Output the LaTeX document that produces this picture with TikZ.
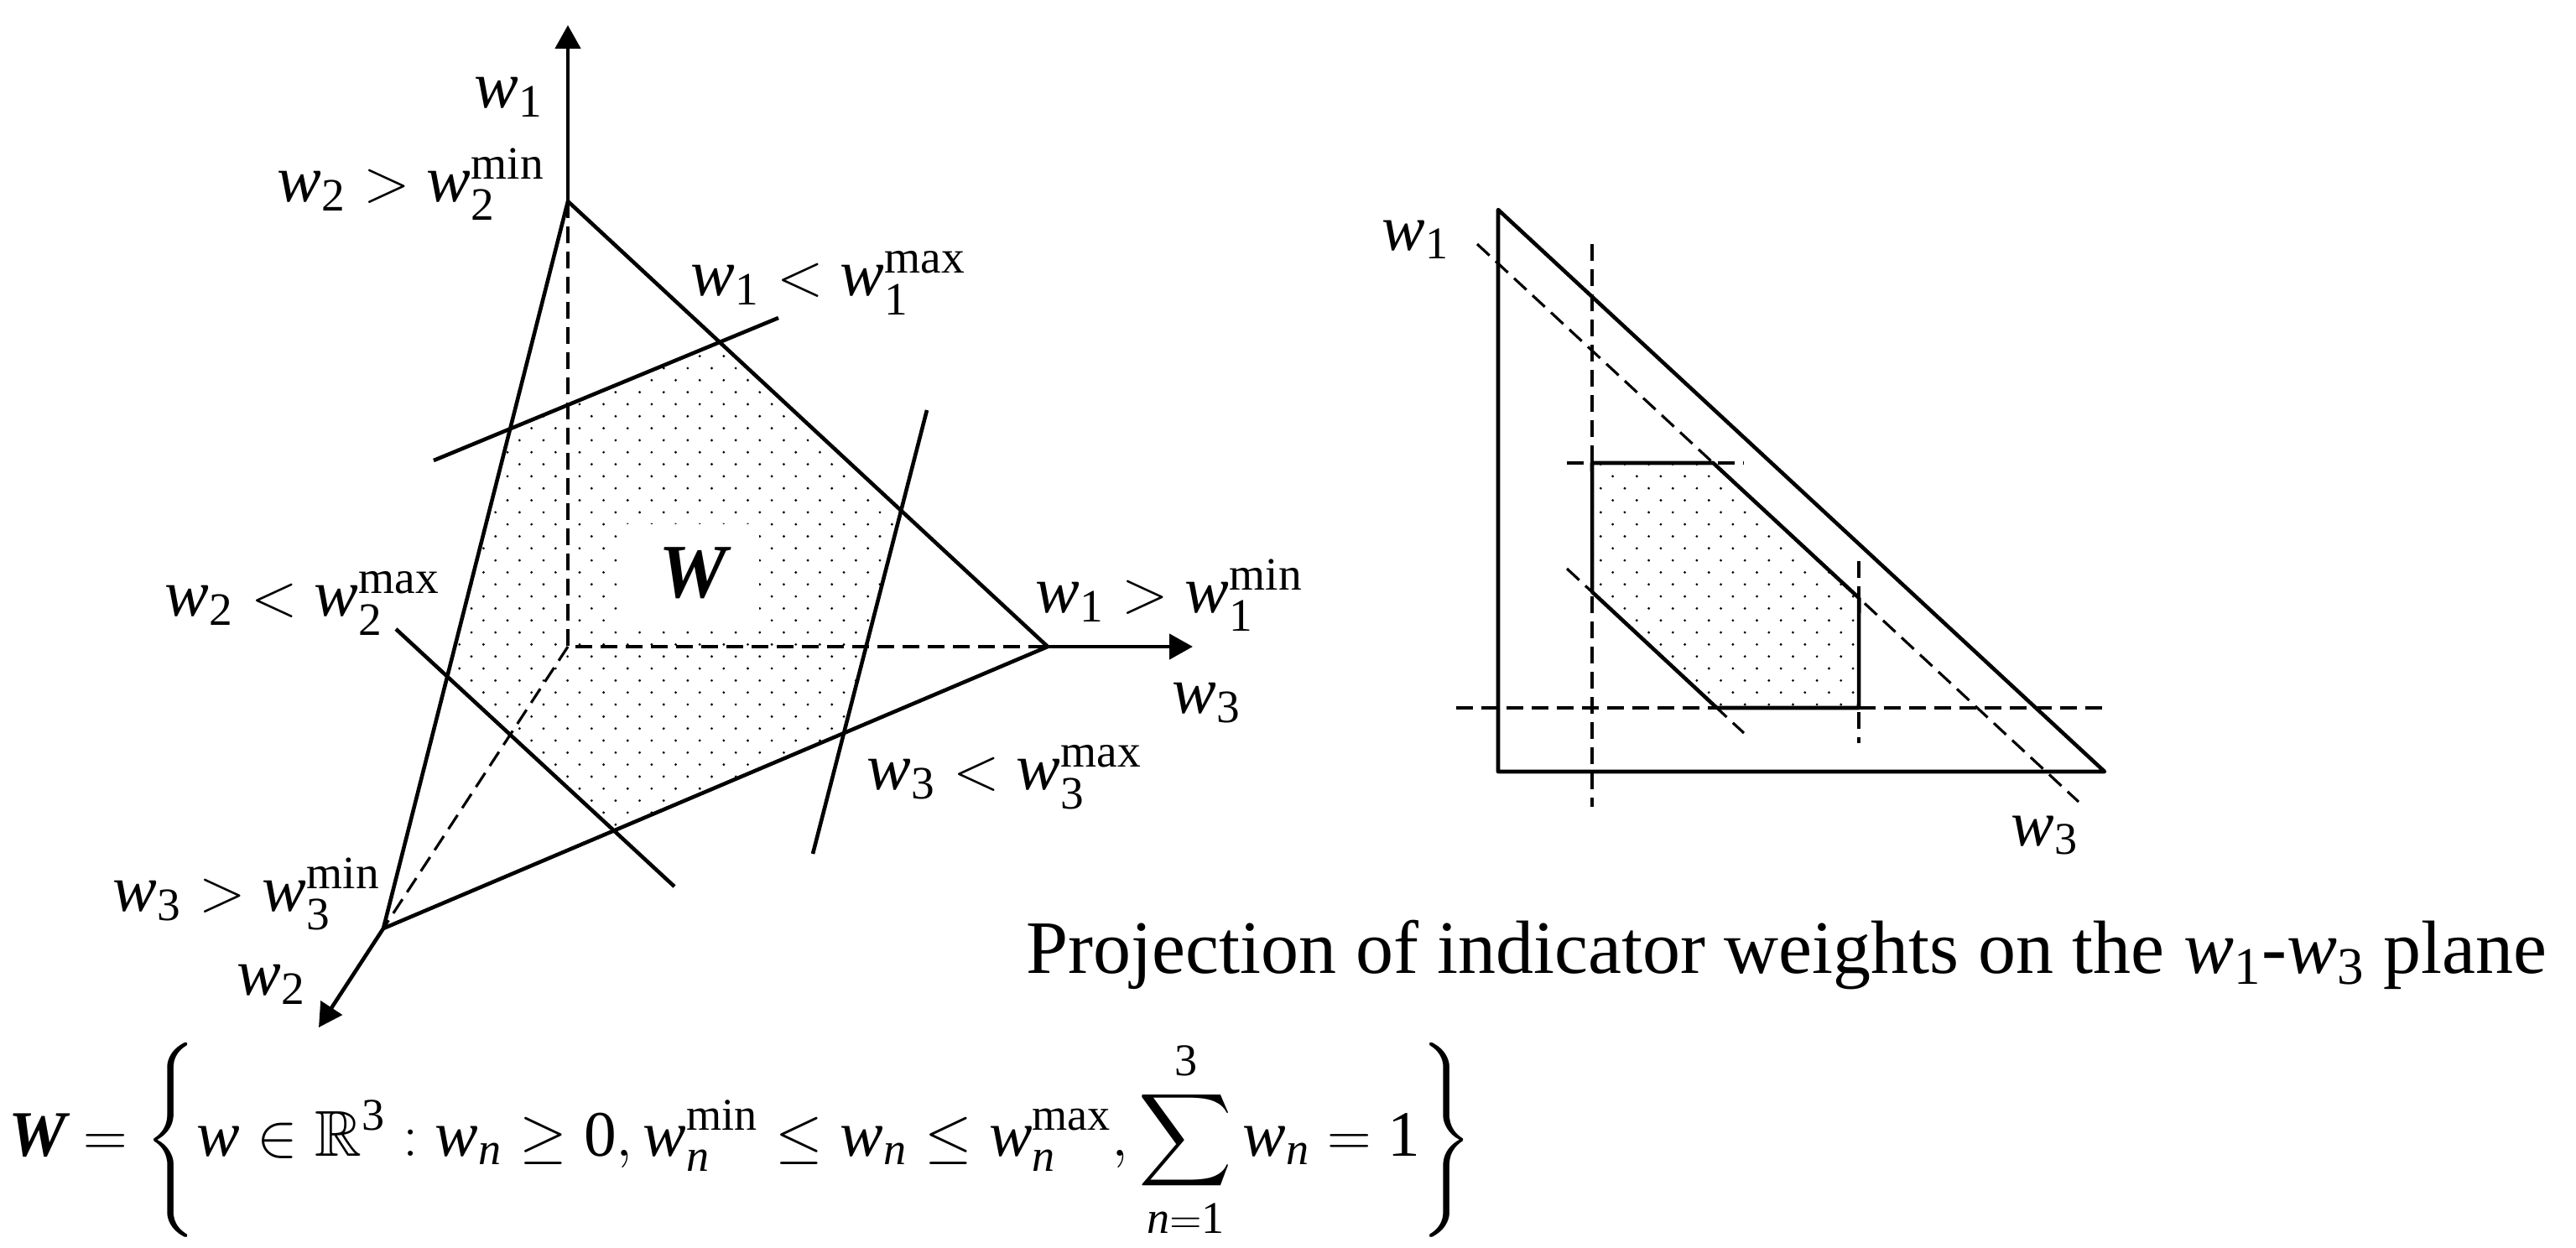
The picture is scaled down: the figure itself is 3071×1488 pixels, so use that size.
\documentclass[tikz,border=0pt]{standalone}
\usepackage{amsmath,amssymb}
\usepackage{fontspec}
\setmainfont{Liberation Serif}
\usetikzlibrary{arrows.meta,patterns}

\newcommand\iw{\text{\itshape w}}
\newcommand\tx[1]{\text{#1}}
\newcommand\iN{\text{\itshape n}}

\pgfdeclarepatternformonly{sdots}{\pgfqpoint{0pt}{0pt}}{\pgfqpoint{6.2pt}{6.2pt}}{\pgfqpoint{8.15pt}{8.15pt}}{%
  \pgfpathcircle{\pgfqpoint{1pt}{1pt}}{0.45pt}%
  \pgfpathcircle{\pgfqpoint{5.07pt}{5.07pt}}{0.45pt}%
  \pgfusepath{fill}}

\begin{document}
\begin{tikzpicture}[x=0.1mm,y=-0.1mm,line join=round]
\tikzset{
  solidline/.style={line width=1.3pt},
  dashline/.style={line width=0.9pt,dash pattern=on 2mm off 1mm},
  axisarrow/.style={line width=1.3pt,-{Triangle[length=2.8mm,width=3mm]}},
  lbl/.style={font=\fontsize{22.5}{27}\selectfont,inner sep=0pt},
  rlbl/.style={font=\fontsize{22}{26}\selectfont,inner sep=0pt},
  dotfill/.style={pattern=sdots},
}
\useasboundingbox (0,0) rectangle (3071,1488);

% ---------- left 3D diagram ----------
\coordinate (O) at (677,771);
\coordinate (A) at (677,240);
\coordinate (C) at (1249,771);
\coordinate (B) at (457,1107);
\coordinate (T1) at (677,30);
\coordinate (T3) at (1422,771);
\coordinate (T2) at (380,1225);
\coordinate (l1a) at (517,549);  \coordinate (l1b) at (928,379);
\coordinate (l3a) at (1105,489); \coordinate (l3b) at (969,1018);
\coordinate (l2a) at (472,750);  \coordinate (l2b) at (804,1057);

\coordinate (h1) at (intersection of A--B and l1a--l1b);
\coordinate (h2) at (intersection of A--C and l1a--l1b);
\coordinate (h3) at (intersection of A--C and l3a--l3b);
\coordinate (h4) at (intersection of B--C and l3a--l3b);
\coordinate (h5) at (intersection of B--C and l2a--l2b);
\coordinate (h6) at (intersection of A--B and l2a--l2b);

\fill[dotfill] (h1)--(h2)--(h3)--(h4)--(h5)--(h6)--cycle;
\fill[white] (745,625) rectangle (905,752);
\node[inner sep=0pt,font=\fontsize{26}{30}\selectfont] (Wlbl) at (829,683) {\textbf{\itshape W}};

\draw[dashline] (A)--(O)--(C);
\draw[dashline] (O)--(B);
\draw[solidline] (A)--(C)--(B)--cycle;
\draw[axisarrow] (A)--(T1);
\draw[axisarrow] (C)--(T3);
\draw[axisarrow] (B)--(T2);
\draw[solidline] (l1a)--(l1b);
\draw[solidline] (l3a)--(l3b);
\draw[solidline] (l2a)--(l2b);

\node[lbl,anchor=base west] (lw1) at (565,128) {$\iw_{\tx{1}}$};
\node[lbl,anchor=base west] (lw2min) at (330,240) {$\iw_{\tx{2}}>\iw_{\tx{2}}^{\tx{min}}$};
\node[lbl,anchor=base west] (lw1max) at (823,352) {$\iw_{\tx{1}}<\iw_{\tx{1}}^{\tx{max}}$};
\node[lbl,anchor=base west] (lw2max) at (196,734) {$\iw_{\tx{2}}<\iw_{\tx{2}}^{\tx{max}}$};
\node[lbl,anchor=base west] (lw1min) at (1234,730) {$\iw_{\tx{1}}>\iw_{\tx{1}}^{\tx{min}}$};
\node[lbl,anchor=base west] (lw3) at (1397,850) {$\iw_{\tx{3}}$};
\node[lbl,anchor=base west] (lw3max) at (1033,941) {$\iw_{\tx{3}}<\iw_{\tx{3}}^{\tx{max}}$};
\node[lbl,anchor=base west] (lw3min) at (134,1086) {$\iw_{\tx{3}}>\iw_{\tx{3}}^{\tx{min}}$};
\node[lbl,anchor=base west] (lw2) at (282,1186) {$\iw_{\tx{2}}$};

% ---------- right projection ----------
\coordinate (TL) at (1786,250);
\coordinate (BL) at (1786,920);
\coordinate (BR) at (2509,920);
\coordinate (u1) at (1761,291);  \coordinate (u2) at (2478,956);
\coordinate (d1) at (1868,678);  \coordinate (d2) at (2079,874);
\coordinate (va1) at (1898,291); \coordinate (va2) at (1898,962);
\coordinate (vb1) at (2216,669); \coordinate (vb2) at (2216,886);
\coordinate (ha1) at (1736,844); \coordinate (ha2) at (2513,844);
\coordinate (hb1) at (1868,552); \coordinate (hb2) at (2079,552);

\coordinate (p1) at (va1 |- hb1);
\coordinate (p2) at (intersection of u1--u2 and hb1--hb2);
\coordinate (p3) at (intersection of u1--u2 and vb1--vb2);
\coordinate (p4) at (vb1 |- ha1);
\coordinate (p5) at (intersection of d1--d2 and ha1--ha2);
\coordinate (p6) at (intersection of d1--d2 and va1--va2);

\fill[dotfill] (p1)--(p2)--(p3)--(p4)--(p5)--(p6)--cycle;
\draw[dashline] (va1)--(va2);
\draw[dashline] (vb1)--(vb2);
\draw[dashline] (ha1)--(ha2);
\draw[dashline] (hb1)--(hb2);
\draw[dashline] (u1)--(u2);
\draw[dashline] (d1)--(d2);
\draw[solidline] (TL)--(BL)--(BR)--cycle;
\draw[solidline] (p1)--(p2)--(p3)--(p4)--(p5)--(p6)--cycle;

\node[rlbl,anchor=base west] (rw1) at (1647,298) {$\iw_{\tx{1}}$};
\node[rlbl,anchor=base west] (rw3) at (2397,1008) {$\iw_{\tx{3}}$};

% ---------- texts ----------
\node[anchor=base west,inner sep=0pt,font=\fontsize{25.6}{30}\selectfont] (proj) at (1223,1160)
  {Projection of indicator weights on the $\iw_{\tx{1}}$-$\iw_{\tx{3}}$ plane};

\node[anchor=base west,inner sep=0pt,font=\fontsize{22}{26}\selectfont] (formula) at (10,1378)
  {$\displaystyle \textbf{\itshape W}=\left\{\iw\in\mathbb{R}^{\tx{3}}:\iw_{\iN}\geq\tx{0},\iw_{\iN}^{\tx{min}}\leq\iw_{\iN}\leq\iw_{\iN}^{\tx{max}},\sum_{\iN=\tx{1}}^{\tx{3}}\iw_{\iN}=\tx{1}\right\}$};
\end{tikzpicture}
\end{document}
